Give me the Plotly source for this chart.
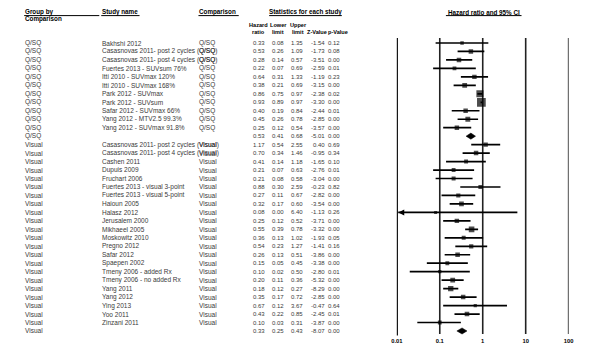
import math
import plotly.graph_objects as go

# ---------------- data ----------------
groups = ["Q/SQ"] * 12 + ["Visual"] * 23
studies = [
    "Bakhshi 2012",
    "Casasnovas 2011- post 2 cycles (Q/SQ)",
    "Casasnovas 2011- post 4 cycles (Q/SQ)",
    "Fuertes 2013 - SUVsum 76%",
    "Itti 2010 - SUVmax 120%",
    "Itti 2010 - SUVmax 168%",
    "Park 2012 - SUVmax",
    "Park 2012 - SUVsum",
    "Safar 2012 - SUVmax 66%",
    "Yang 2012 - MTV2.5 99.3%",
    "Yang 2012 - SUVmax 91.8%",
    "",
    "Casasnovas 2011- post 2 cycles (Visual)",
    "Casasnovas 2011- post 4 cycles (Visual)",
    "Cashen 2011",
    "Dupuis 2009",
    "Fruchart 2006",
    "Fuertes 2013 - visual 3-point",
    "Fuertes 2013 - visual 5-point",
    "Haioun 2005",
    "Halasz 2012",
    "Jerusalem 2000",
    "Mikhaeel 2005",
    "Moskowitz 2010",
    "Pregno 2012",
    "Safar 2012",
    "Spaepen 2002",
    "Tmeny 2006 - added Rx",
    "Tmeny 2006 - no added Rx",
    "Yang 2011",
    "Yang 2012",
    "Ying 2013",
    "Yoo 2011",
    "Zinzani 2011",
    "",
]
comparisons = ["Q/SQ"] * 11 + [""] + ["Visual"] * 22 + [""]
is_summary = [False] * 11 + [True] + [False] * 22 + [True]

hazard_ratio = [0.33, 0.53, 0.28, 0.22, 0.64, 0.38, 0.86, 0.93, 0.40, 0.45, 0.25, 0.53,
                1.17, 0.70, 0.41, 0.21, 0.21, 0.88, 0.27, 0.32, 0.08, 0.25, 0.55, 0.36,
                0.54, 0.26, 0.15, 0.10, 0.20, 0.18, 0.35, 0.67, 0.43, 0.10, 0.33]
lower_limit = [0.08, 0.26, 0.14, 0.07, 0.31, 0.21, 0.75, 0.89, 0.19, 0.26, 0.12, 0.41,
               0.54, 0.34, 0.14, 0.07, 0.08, 0.30, 0.11, 0.17, 0.00, 0.12, 0.39, 0.13,
               0.23, 0.13, 0.05, 0.02, 0.11, 0.12, 0.17, 0.12, 0.22, 0.03, 0.25]
upper_limit = [1.35, 1.09, 0.57, 0.69, 1.33, 0.69, 0.97, 0.97, 0.84, 0.78, 0.54, 0.68,
               2.55, 1.46, 1.18, 0.63, 0.58, 2.59, 0.67, 0.60, 6.40, 0.52, 0.78, 1.02,
               1.27, 0.51, 0.45, 0.50, 0.36, 0.27, 0.72, 3.67, 0.85, 0.31, 0.43]
z_value = [-1.54, -1.73, -3.51, -2.59, -1.19, -3.15, -2.38, -3.30, -2.44, -2.85, -3.57, -5.01,
           0.40, -0.95, -1.65, -2.76, -3.04, -0.23, -2.82, -3.54, -1.13, -3.71, -3.32, -1.93,
           -1.41, -3.86, -3.38, -2.80, -5.32, -8.29, -2.85, -0.47, -2.45, -3.87, -8.07]
p_value = [0.12, 0.08, 0.00, 0.01, 0.23, 0.00, 0.02, 0.00, 0.01, 0.00, 0.00, 0.00,
           0.69, 0.34, 0.10, 0.01, 0.00, 0.82, 0.00, 0.00, 0.26, 0.00, 0.00, 0.05,
           0.16, 0.00, 0.00, 0.01, 0.00, 0.00, 0.00, 0.64, 0.01, 0.00, 0.00]

tick_vals = [0.01, 0.1, 1, 10, 100]
tick_labels = ["0.01", "0.1", "1", "10", "100"]

# ---------------- layout constants ----------------
W, H = 609, 359
FONT = "Liberation Sans, Arial, sans-serif"
FS_NAME = 6.5
FS_NUM = 6.0
TXT = "#3a3a3a"
n = len(studies)
axis_min = tick_vals[0]
ROW0, ROWH = 43.0, 8.47


def px(x):
    return x / W


def row_of(ypix):
    return (ypix - ROW0) / ROWH


fig = go.Figure()

# reference lines at each decade
vx, vy = [], []
for t in tick_vals[1:]:
    vx += [t, t, None]
    vy += [row_of(38), row_of(334), None]
fig.add_trace(go.Scatter(x=vx, y=vy, mode="lines", line=dict(color="#222222", width=1.6),
                         hoverinfo="skip", showlegend=False))
fig.add_trace(go.Scatter(x=[axis_min, axis_min], y=[row_of(38), row_of(335.5)], mode="lines",
                         line=dict(color="black", width=2.2), hoverinfo="skip", showlegend=False))

# confidence intervals + squares
cx, cy = [], []
arrow_x, arrow_y = [], []
sq_x, sq_y, sq_s = [], [], []
for i in range(n):
    if is_summary[i]:
        continue
    lo = lower_limit[i]
    if lo < axis_min:
        lo_draw = axis_min * 1.08
        arrow_x.append(lo_draw)
        arrow_y.append(i)
    else:
        lo_draw = lo
    cx += [lo_draw, upper_limit[i], None]
    cy += [i, i, None]
    if lo > 0:
        se = (math.log(upper_limit[i]) - math.log(lo)) / 3.92
    else:
        se = (math.log(upper_limit[i]) - math.log(hazard_ratio[i])) / 1.96
    w = 1 / se ** 2
    s = min(max(3 + 0.75 * math.log(w), 3), 9)
    sq_x.append(hazard_ratio[i])
    sq_y.append(i)
    sq_s.append(s)

fig.add_trace(go.Scatter(x=cx, y=cy, mode="lines", line=dict(color="black", width=1.7),
                         hoverinfo="skip", showlegend=False))
fig.add_trace(go.Scatter(x=sq_x, y=sq_y, mode="markers",
                         marker=dict(symbol="square", size=sq_s, color="black", line=dict(width=0)),
                         showlegend=False))
if arrow_x:
    fig.add_trace(go.Scatter(x=arrow_x, y=arrow_y, mode="markers",
                             marker=dict(symbol="arrow-left", size=6, color="black", line=dict(width=0)),
                             showlegend=False))

# summary diamonds
for i in range(n):
    if not is_summary[i]:
        continue
    h = 0.36
    fig.add_trace(go.Scatter(
        x=[lower_limit[i], hazard_ratio[i], upper_limit[i], hazard_ratio[i], lower_limit[i]],
        y=[i, i - h, i, i + h, i], mode="lines", fill="toself", fillcolor="black",
        line=dict(color="black", width=0.5), hoverinfo="skip", showlegend=False))

ann = []


def add_text(x, y, text, anchor="left", bold=False, color=TXT, size=FS_NAME):
    if bold:
        text = "<b>" + text + "</b>"
    ann.append(dict(x=px(x), y=y, xref="paper", yref="y", text=text, showarrow=False,
                    xanchor=anchor, yanchor="middle", font=dict(family=FONT, size=size, color=color),
                    borderpad=0))


# table rows
for i in range(n):
    add_text(18.5, i, groups[i])
    if studies[i]:
        add_text(96.5, i, studies[i])
    if comparisons[i]:
        add_text(195.5, i, comparisons[i])
    add_text(264.5, i, f"{hazard_ratio[i]:.2f}", anchor="right", size=FS_NUM)
    add_text(284, i, f"{lower_limit[i]:.2f}", anchor="right", size=FS_NUM)
    add_text(303.5, i, f"{upper_limit[i]:.2f}", anchor="right", size=FS_NUM)
    add_text(325.5, i, f"{z_value[i]:.2f}", anchor="right", size=FS_NUM)
    add_text(341.5, i, f"{p_value[i]:.2f}", anchor="right", size=FS_NUM)

HC = "black"
HS = 6.3
CS = 5.6
add_text(18.5, row_of(12), "Group by", bold=True, color=HC, size=HS)
add_text(18.5, row_of(19.3), "Comparison", bold=True, color=HC, size=HS)
add_text(96.5, row_of(12), "Study name", bold=True, color=HC, size=HS)
add_text(195.5, row_of(12), "Comparison", bold=True, color=HC, size=HS)
add_text(305, row_of(12), "Statistics for each study", anchor="center", bold=True, color=HC, size=HS)
add_text(486.5, row_of(12), "Hazard ratio and 95% CI", anchor="center", bold=True, color=HC, size=HS)
add_text(257.5, row_of(25), "Hazard", anchor="center", bold=True, color=HC, size=CS)
add_text(257.5, row_of(31.8), "ratio", anchor="center", bold=True, color=HC, size=CS)
add_text(277.5, row_of(25), "Lower", anchor="center", bold=True, color=HC, size=CS)
add_text(277.5, row_of(31.8), "limit", anchor="center", bold=True, color=HC, size=CS)
add_text(297.5, row_of(25), "Upper", anchor="center", bold=True, color=HC, size=CS)
add_text(297.5, row_of(31.8), "limit", anchor="center", bold=True, color=HC, size=CS)
add_text(316.5, row_of(31.8), "Z-Value", anchor="center", bold=True, color=HC, size=CS)
add_text(338, row_of(31.8), "p-Value", anchor="center", bold=True, color=HC, size=CS)

shapes = []
for x0, x1 in [(18.5, 95), (97, 136), (196, 237), (268, 342), (448, 525)]:
    shapes.append(dict(type="line", xref="paper", yref="y", x0=px(x0), x1=px(x1),
                       y0=row_of(15.6), y1=row_of(15.6), line=dict(color="black", width=1)))

fig.update_layout(
    width=W, height=H, margin=dict(l=0, r=0, t=0, b=0),
    paper_bgcolor="white", plot_bgcolor="white",
    annotations=ann, shapes=shapes, showlegend=False,
    xaxis=dict(type="log", range=[-2, 2], domain=[398 / W, 573 / W], showgrid=False,
               zeroline=False, showline=False, ticks="", tickvals=tick_vals,
               ticktext=["<b>" + t + "</b>" for t in tick_labels],
               tickfont=dict(family=FONT, size=5.8, color="black"), fixedrange=True),
    yaxis=dict(range=[row_of(336), row_of(0)], domain=[(H - 336) / H, 1], visible=False,
               fixedrange=True),
)

fig.write_html("out.html", config={"displayModeBar": False},
               post_script="document.body.style.margin='0px';")
